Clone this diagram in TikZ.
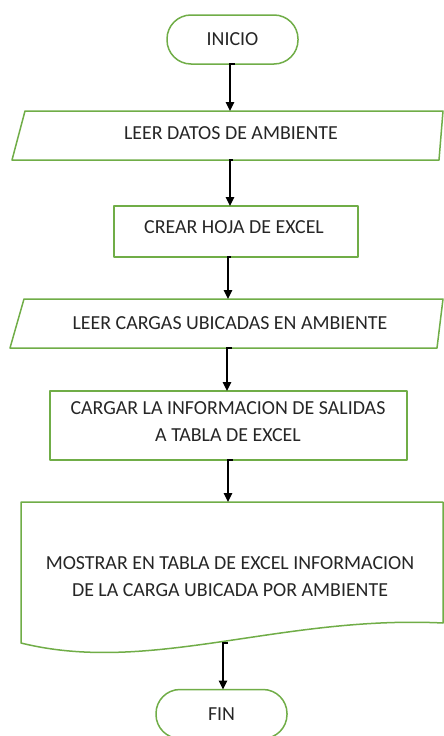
\documentclass[tikz,border=0pt]{standalone}
\usepackage{fontspec}
\setmainfont{Carlito}
\usetikzlibrary{arrows.meta}
\definecolor{boxgreen}{HTML}{70AD47}
\definecolor{txt}{HTML}{262626}
\tikzset{
  box/.style={shape=rectangle, inner sep=0pt, outer sep=0pt, align=center, text=txt,
    font=\fontsize{19.9}{27}\selectfont},
  outline/.style={draw=boxgreen, line width=1.5pt, line join=round},
  term/.style={box, outline, rounded corners=24pt, minimum width=131pt, minimum height=49pt},
  arr/.style={black, line width=1.4pt, -{Triangle[width=8.5pt,length=9pt]}}
}
\begin{document}
\begin{tikzpicture}[x=1pt,y=-1pt]
\useasboundingbox (0,0) rectangle (444,736);
\clip (0,0) rectangle (444,736);
\fill[white] (0,0) rectangle (444,736);

% INICIO
\node[term] (ini) at (232.5,39.5) {INICIO};

% LEER DATOS DE AMBIENTE (parallelogram)
\node[box, minimum width=431pt, minimum height=49pt] (p1) at (227.5,135.5) {};
\draw[outline] ([xshift=13pt]p1.north west) -- (p1.north east) -- ([xshift=-4pt]p1.south east) -- (p1.south west) -- cycle;
\node[box] (p1t) at (231,133) {LEER DATOS DE AMBIENTE};

% CREAR HOJA DE EXCEL
\node[box, outline, minimum width=244pt, minimum height=51pt] (cr) at (236,231.5) {};
\node[box] (crt) at (234,227) {CREAR HOJA DE EXCEL};

% LEER CARGAS UBICADAS EN AMBIENTE (parallelogram)
\node[box, minimum width=433pt, minimum height=49pt] (p2) at (226.5,323.5) {};
\draw[outline] ([xshift=14pt]p2.north west) -- (p2.north east) -- ([xshift=-6pt]p2.south east) -- (p2.south west) -- cycle;
\node[box] (p2t) at (230,323) {LEER CARGAS UBICADAS EN AMBIENTE};

% CARGAR LA INFORMACION ...
\node[box, outline, minimum width=357pt, minimum height=69pt] (cg) at (228.5,425.5) {};
\node[box] (cgt) at (228,421.5) {CARGAR LA INFORMACION DE SALIDAS\\A TABLA DE EXCEL};

% MOSTRAR ... (document shape)
\node[box, minimum width=422pt, minimum height=141pt] (doc) at (232,572.5) {};
\draw[outline] (doc.north west) -- (doc.north east) -- ([yshift=20pt]doc.south east)
  .. controls (280,615) and (150,675) .. (doc.south west) -- cycle;
\node[box] (doct) at (230,576.5) {MOSTRAR EN TABLA DE EXCEL INFORMACION\\DE LA CARGA UBICADA POR AMBIENTE};

% FIN
\node[term] (fin) at (221.5,714) {FIN};

% connectors
\draw[arr] ([xshift=2.5pt]ini.south) -| ([xshift=2.5pt]p1.north);
\draw[arr] ([xshift=5.5pt]p1.south) -| ([xshift=-6pt]cr.north);
\draw[arr] ([xshift=-5pt]cr.south) -| ([xshift=1.5pt]p2.north);
\draw[arr] ([xshift=5.5pt]p2.south) -| ([xshift=-1.5pt]cg.north);
\draw[arr] ([xshift=4.5pt]cg.south) -| ([xshift=-4pt]doc.north);
\draw[arr] ([xshift=-4pt]doc.south) -| ([xshift=1.5pt]fin.north);
\end{tikzpicture}
\end{document}
